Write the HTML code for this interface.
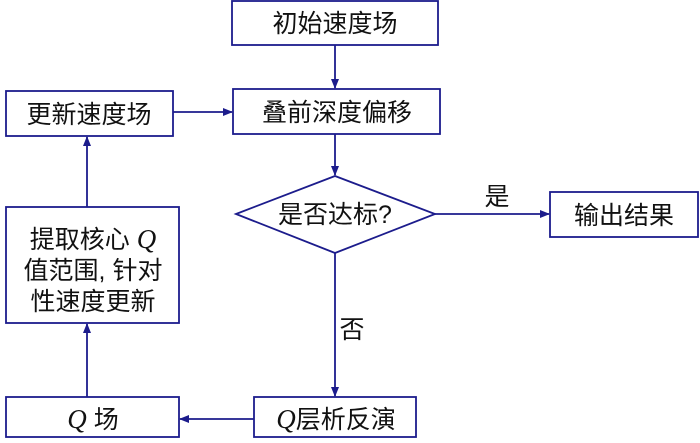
<!DOCTYPE html>
<html><head><meta charset="utf-8"><style>
html,body{margin:0;padding:0;background:#fff;}
svg{display:block;}
text{font-family:"Liberation Sans","Noto Sans CJK SC",sans-serif;font-size:25px;fill:#111;}
.q{font-family:"Liberation Serif",serif;font-style:italic;font-size:27px;}
</style></head><body>
<svg width="700" height="443" viewBox="0 0 700 443" xmlns="http://www.w3.org/2000/svg">
<defs><marker id="a" markerWidth="10" markerHeight="8" refX="9" refY="4" orient="auto" markerUnits="userSpaceOnUse"><path d="M0,0 L10,4 L0,8 Z" fill="#1c1c8c"/></marker></defs>
<g fill="none" stroke="#1c1c8c" stroke-width="1.8">
<rect x="232" y="1" width="206" height="44"/>
<rect x="233" y="89" width="207" height="45"/>
<polygon points="236,214 335,176 435,214 335,253"/>
<rect x="6" y="91" width="167" height="45"/>
<rect x="6" y="207" width="173" height="116"/>
<rect x="6" y="397" width="173" height="40"/>
<rect x="254" y="397" width="162" height="40"/>
<rect x="550" y="192" width="148" height="45"/>
<line x1="335" y1="45" x2="335" y2="88" marker-end="url(#a)"/>
<line x1="335" y1="134" x2="335" y2="175" marker-end="url(#a)"/>
<line x1="435" y1="214" x2="549" y2="214" marker-end="url(#a)"/>
<line x1="335" y1="253" x2="335" y2="396" marker-end="url(#a)"/>
<line x1="254" y1="419" x2="180" y2="419" marker-end="url(#a)"/>
<line x1="87" y1="397" x2="87" y2="324" marker-end="url(#a)"/>
<line x1="87" y1="207" x2="87" y2="137" marker-end="url(#a)"/>
<line x1="173" y1="112" x2="232" y2="112" marker-end="url(#a)"/>
</g>
<g text-anchor="middle">
<text x="335" y="32">初始速度场</text>
<text x="337" y="121">叠前深度偏移</text>
<text x="335" y="223">是否达标?</text>
<text x="89" y="123">更新速度场</text>
<text x="93" y="248">提取核心 <tspan class="q">Q</tspan></text>
<text x="93" y="279">值范围, 针对</text>
<text x="93" y="310">性速度更新</text>
<text x="93" y="428"><tspan class="q">Q</tspan> 场</text>
<text x="336" y="428"><tspan class="q">Q</tspan>层析反演</text>
<text x="624" y="224">输出结果</text>
<text x="497" y="205">是</text>
<text x="352" y="338">否</text>
</g>
</svg>
</body></html>
